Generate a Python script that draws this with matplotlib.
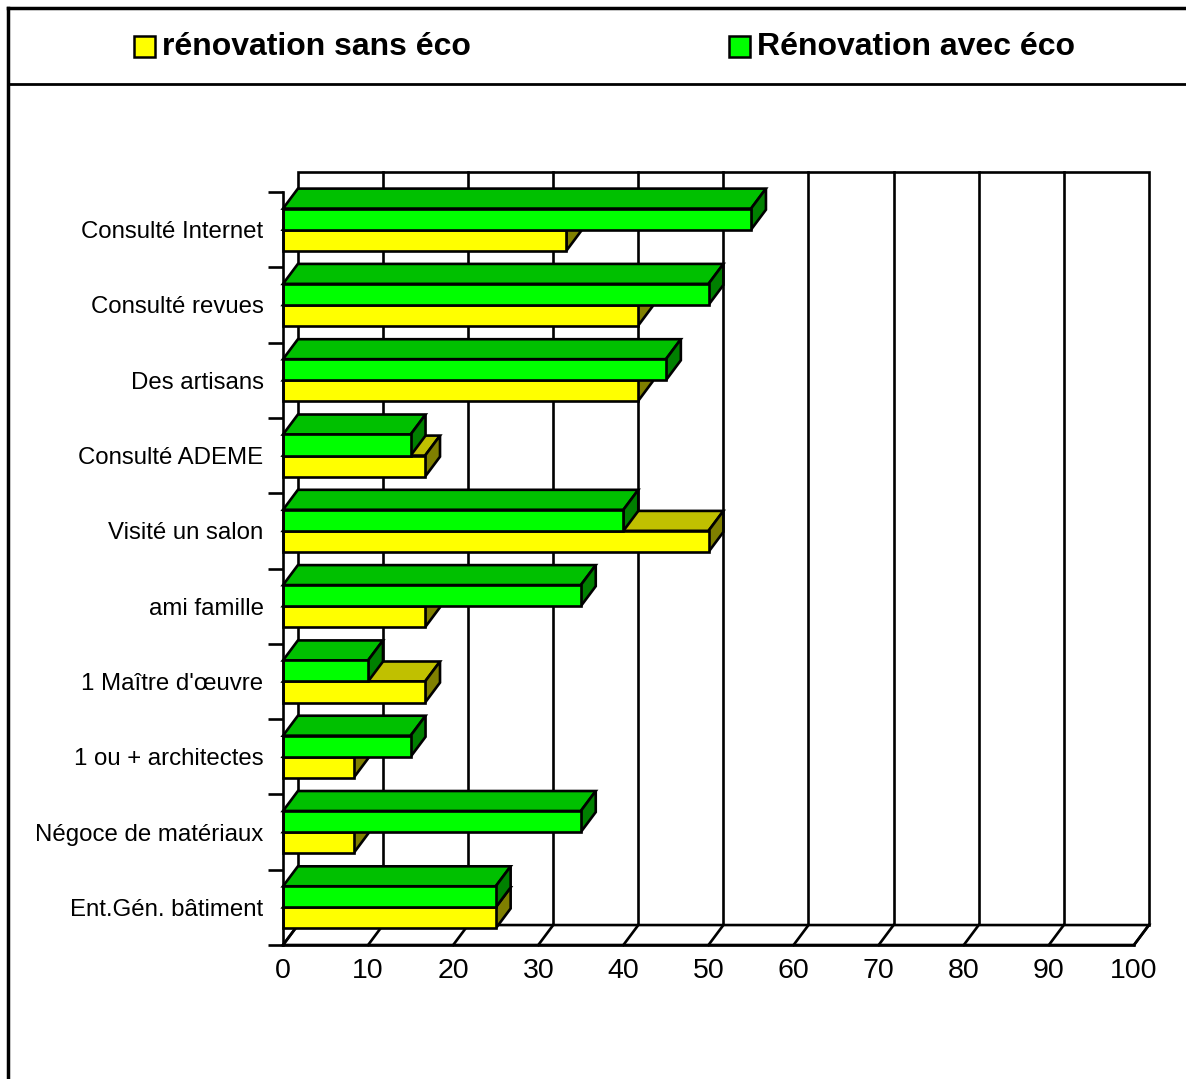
import matplotlib
matplotlib.use("Agg")
import matplotlib.pyplot as plt
from matplotlib.patches import Polygon, Rectangle
from matplotlib.lines import Line2D

plt.rcParams["font.family"] = ["Liberation Sans", "DejaVu Sans"]

categories = ["Consulté Internet", "Consulté revues", "Des artisans", "Consulté ADEME",
              "Visité un salon", "ami famille", "1 Maître d'œuvre", "1 ou + architectes",
              "Négoce de matériaux", "Ent.Gén. bâtiment"]
sans_eco = [33.3, 41.7, 41.7, 16.7, 50.0, 16.7, 16.7, 8.3, 8.3, 25.0]
avec_eco = [55, 50, 45, 15, 40, 35, 10, 15, 35, 25]
series_names = ["rénovation sans éco", "Rénovation avec éco"]
xticks = list(range(0, 101, 10))

# colours: front, top, side
YELLOW = ("#ffff00", "#c0c000", "#808000")
GREEN = ("#00ff00", "#00c000", "#008000")

W, H = 1186, 1079
fig = plt.figure(figsize=(W / 100, H / 100), dpi=100)
ax = fig.add_axes([283 / W, 1 - 945 / H, (1134 - 283) / W, (945 - 192) / H])
ax.set_xlim(0, 100)
ax.set_ylim(0, len(categories))

DX, DY = 1.75, 0.265  # depth offset in data units
BH = 0.28
LW = 1.9
n = len(categories)

# back wall + grid
ax.add_patch(Polygon([(DX, DY), (100 + DX, DY), (100 + DX, n + DY), (DX, n + DY)],
                     closed=True, facecolor="white", edgecolor="black", lw=LW,
                     clip_on=False, zorder=1))
for k in xticks[1:-1]:
    ax.add_line(Line2D([k + DX, k + DX], [DY, n + DY], color="black", lw=LW,
                       clip_on=False, zorder=1))
# floor
ax.add_patch(Polygon([(0, 0), (100, 0), (100 + DX, DY), (DX, DY)], closed=True,
                     facecolor="white", edgecolor="black", lw=LW, clip_on=False, zorder=1))
for k in xticks:
    ax.add_line(Line2D([k, k + DX], [0, DY], color="black", lw=LW, clip_on=False, zorder=1))


def box(x, y0, h, cols, z):
    front, top, side = cols
    kw = dict(closed=True, edgecolor="black", lw=LW, clip_on=False, joinstyle="miter")
    ax.add_patch(Polygon([(0, y0 + h), (x, y0 + h), (x + DX, y0 + h + DY), (DX, y0 + h + DY)],
                         facecolor=top, zorder=z, **kw))
    ax.add_patch(Polygon([(x, y0), (x + DX, y0 + DY), (x + DX, y0 + h + DY), (x, y0 + h)],
                         facecolor=side, zorder=z, **kw))
    ax.add_patch(Polygon([(0, y0), (x, y0), (x, y0 + h), (0, y0 + h)],
                         facecolor=front, zorder=z, **kw))


for i in range(n):
    c = n - i - 0.5
    box(sans_eco[i], c - BH, BH, YELLOW, 3 + 2 * i)
    box(avec_eco[i], c, BH, GREEN, 4 + 2 * i)

for s in ["top", "right"]:
    ax.spines[s].set_visible(False)
for s in ["left", "bottom"]:
    ax.spines[s].set_linewidth(LW)
    ax.spines[s].set_zorder(50)

ax.set_yticks([n - i - 0.5 for i in range(n)])
ax.set_yticklabels(categories, fontsize=17.3)
ax.set_yticks(range(n + 1), minor=True)
ax.tick_params(axis="y", which="major", length=0, pad=14)
ax.tick_params(axis="y", which="minor", length=11, width=LW)
ax.set_xticks(xticks)
ax.set_xticklabels([str(v) for v in xticks], fontsize=20.5)
ax.tick_params(axis="x", length=0, pad=9)

# outer frame and legend band
fig.add_artist(Line2D([8 / W, 8 / W], [0, 1 - 8 / H], color="black", lw=2.5))
fig.add_artist(Line2D([8 / W, 1], [1 - 8 / H, 1 - 8 / H], color="black", lw=2.5))
fig.add_artist(Line2D([8 / W, 1], [1 - 84 / H, 1 - 84 / H], color="black", lw=2))

for name, cols, x0 in zip(series_names, [YELLOW, GREEN], [134, 729]):
    fig.add_artist(Rectangle((x0 / W, 1 - 57 / H), 21 / W, 21 / H, facecolor=cols[0],
                             edgecolor="black", lw=1.8, transform=fig.transFigure))
    fig.text((x0 + 28) / W, 1 - 47 / H, name, fontsize=23, fontweight="bold",
             ha="left", va="center")

fig.savefig("out.png", dpi=100)
